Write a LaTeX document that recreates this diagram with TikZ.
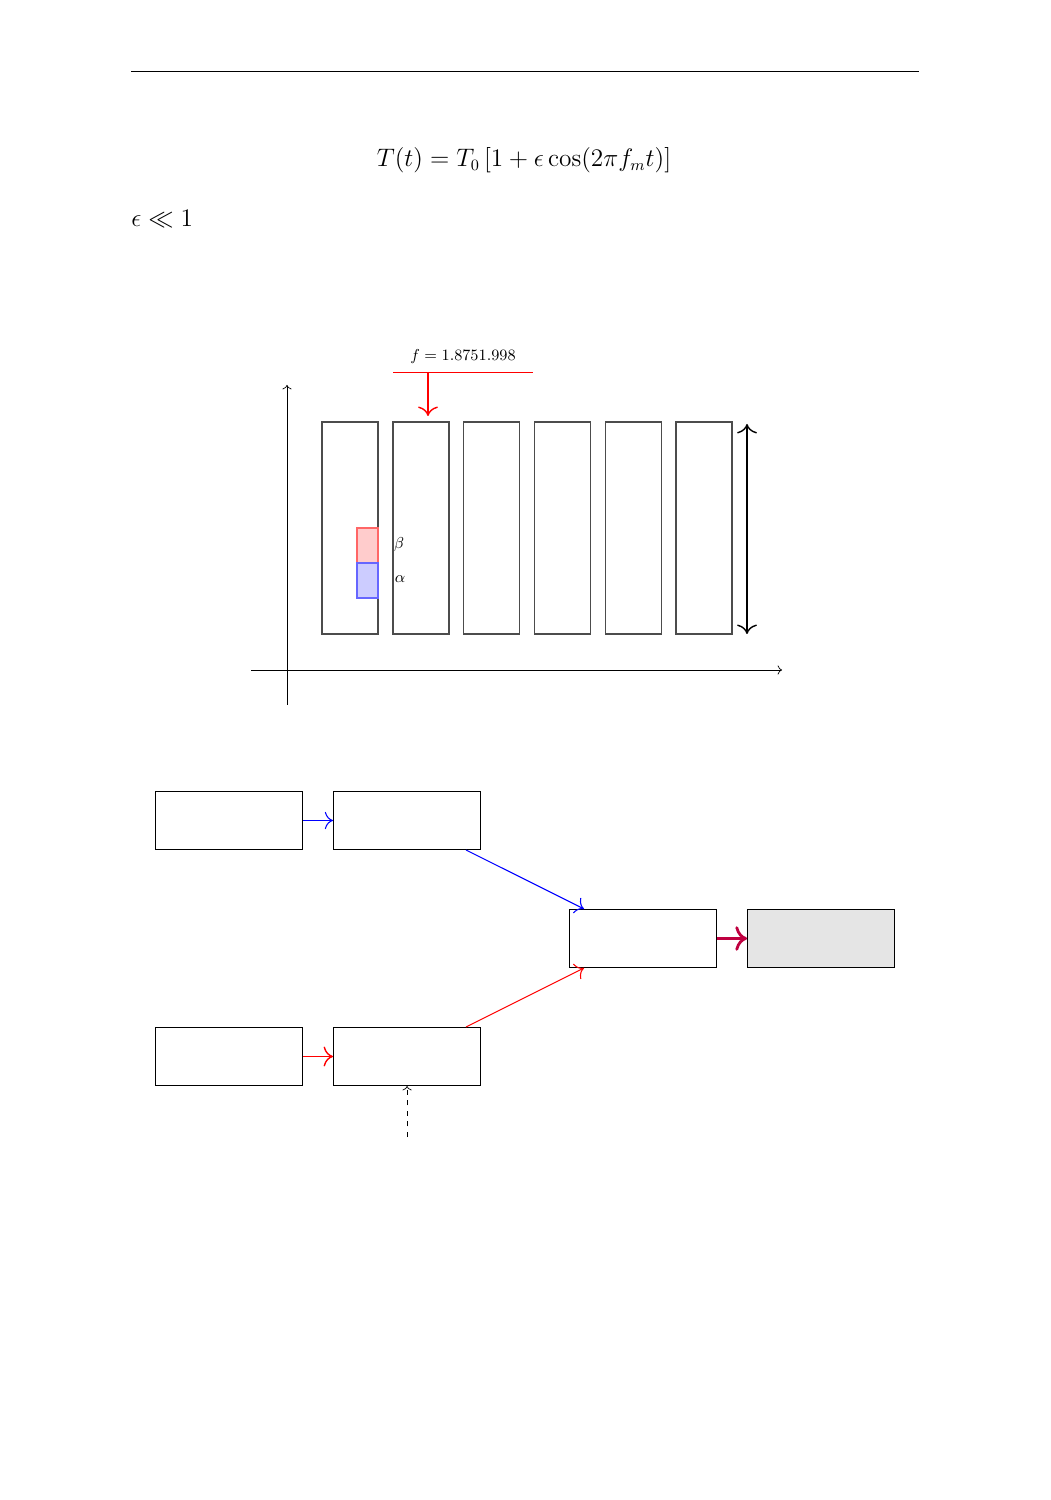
\documentclass[tikz,border=0pt]{standalone}
\usepackage{amsmath}
\usepackage{amssymb}
\usetikzlibrary{arrows,arrows.meta}
\usetikzlibrary{positioning,calc}

\tikzset{
	blk/.style={draw, semithick, minimum width=2.94cm, minimum height=1.16cm, inner sep=0pt},
	bar/.style={draw=black!70, thick},
	bigto/.style={-{To[scale=1.6]}},
	bigboth/.style={{To[scale=1.6]}-{To[scale=1.6]}},
}

\begin{document}
\begin{tikzpicture}
	\useasboundingbox (0,0) rectangle (21,30);
	\coordinate (HL) at (2.62,28.58);
	\coordinate (HR) at (18.38,28.58);
	\draw (HL) -- (HR);
	
	\node (eq) at (10.48,26.8) {\fontsize{13.3}{16}\selectfont $T(t) = T_0\left[1+\epsilon\cos(2\pi f_m t)\right]$};
	\node[anchor=west, inner sep=0pt] (eps) at (2.62,25.62) {\fontsize{13.8}{16}\selectfont $\epsilon \ll 1$};
	
	% axes
	\coordinate (O) at (5.74,16.6);
	\draw[->] (5.74,15.9) -- (5.74,22.3);
	\draw[->] (5.02,16.6) -- (15.64,16.6);
	
	\foreach \i in {0,...,5}
		\draw[bar] (6.44+1.416*\i,17.32) rectangle ++(1.12,4.24);
	
	\draw[red!60, thick, fill=red!20] (7.14,18.74) rectangle (7.56,19.44);
	\draw[blue!60, thick, fill=blue!20] (7.14,18.04) rectangle (7.56,18.74);
	\node[font=\small] (beta) at (7.98,19.1) {$\beta$};
	\node[font=\small] (alpha) at (8.0,18.42) {$\alpha$};
	
	\coordinate (FL) at (7.86,22.56);
	\coordinate (FR) at (10.66,22.56);
	\draw[red] (FL) -- (FR) node[midway, above=1pt, black, font=\small]{$f = 1.8751.998$};
	\draw[bigto][red, thick] (8.56,22.56) -- (8.56,21.68);
	\draw[bigboth][thick] (14.94,21.52) -- (14.94,17.32);
	
	% blocks
	\node[blk] (b1) at (4.58,13.59) {};
	\node[blk, right=0.6cm of b1] (b2) {};
	\node[blk] (b3) at (12.86,11.23) {};
	\node[blk, fill=black!10, right=0.6cm of b3] (b4) {};
	\node[blk] (b5) at (4.58,8.87) {};
	\node[blk, right=0.6cm of b5] (b6) {};
	\coordinate (in) at ($(b6.south)+(0,-1.02)$);
	
	\draw[bigto][blue, semithick] (b1) -- (b2);
	\draw[bigto][blue, semithick] (b2) -- (b3);
	\draw[bigto][red, thick] (b5) -- (b6);
	\draw[bigto][red, semithick] (b6) -- (b3);
	\draw[-{To[scale=1.3]}][purple, ultra thick] (b3) -- (b4);
	\draw[->][dashed] (in) -- (b6.south);
\end{tikzpicture}
\end{document}
